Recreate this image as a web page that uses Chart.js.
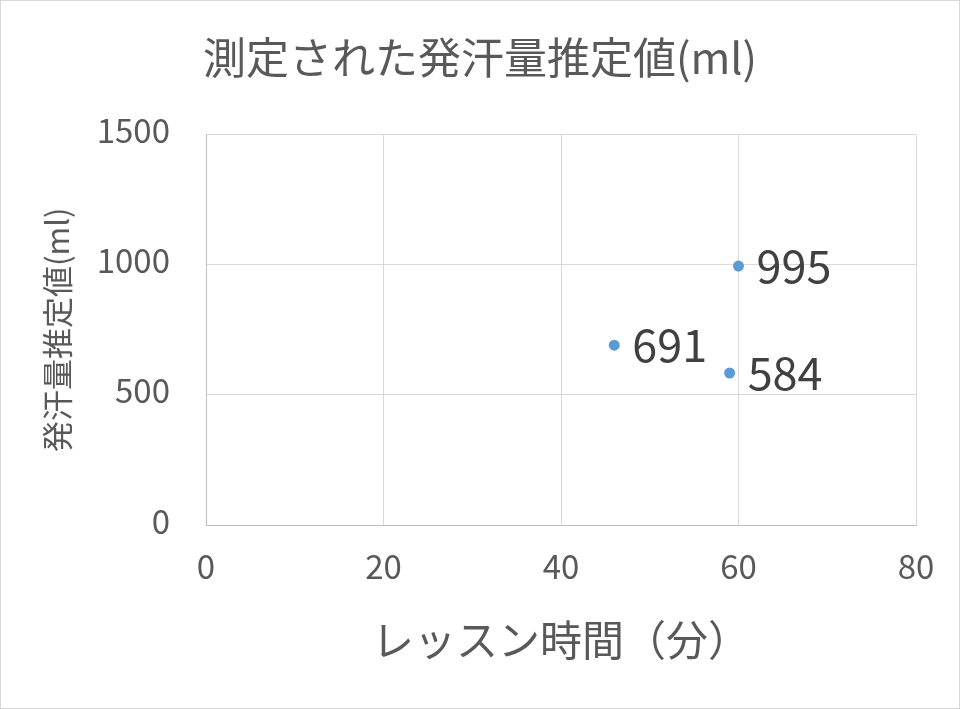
<!DOCTYPE html>
<html>
<head>
<meta charset="utf-8">
<script src="https://cdn.jsdelivr.net/npm/chart.js@4.4.1/dist/chart.umd.min.js"></script>
<style>
  body { margin: 0; background: #fff; }
  #wrap { position: absolute; left: 0; top: 0; width: 958px; height: 707px; border: 1px solid #d9d9d9; }
</style>
</head>
<body>
<div id="wrap"><canvas id="sweatChart" width="958" height="707"></canvas></div>
<script>
// data
const lessonMinutes = [46, 59, 60];
const sweatVolume = [691, 584, 995];
const xRange = [0, 80];
const yRange = [0, 1500];

const FONT = "'Noto Sans CJK JP', 'Noto Sans', sans-serif";
const textGray = '#595959';

// value labels to the right of each point
const pointLabels = {
    id: 'pointLabels',
    afterDatasetsDraw(chart) {
        const c = chart.ctx;
        const meta = chart.getDatasetMeta(0);
        c.save();
        c.font = '45px ' + FONT;
        c.fillStyle = '#404040';
        c.textAlign = 'left';
        c.textBaseline = 'middle';
        meta.data.forEach((pt, i) => {
            c.fillText(String(sweatVolume[i]), pt.x + 18, pt.y);
        });
        c.restore();
    }
};

const points = lessonMinutes.map((m, i) => ({ x: m, y: sweatVolume[i] }));

const ctx = document.getElementById('sweatChart').getContext('2d');
new Chart(ctx, {
    type: 'scatter',
    data: {
        datasets: [{
            label: '発汗量推定値(ml)',
            data: points,
            backgroundColor: '#5b9bd5',
            borderColor: '#5b9bd5',
            pointRadius: 5.5,
            borderWidth: 0,
        }],
    },
    options: {
        responsive: false,
        devicePixelRatio: 1,
        animation: false,
        layout: { padding: 0 },
        plugins: {
            legend: { display: false },
            tooltip: { enabled: false },
            title: {
                display: true,
                text: '測定された発汗量推定値(ml)',
                color: textGray,
                font: { family: FONT, size: 43, weight: 'normal', lineHeight: 1.2 },
                padding: { top: 31, bottom: 51 },
            },
        },
        scales: {
            x: {
                type: 'linear',
                position: 'bottom',
                min: xRange[0],
                max: xRange[1],
                afterFit(scale) { scale.height = 183; },
                ticks: {
                    stepSize: 20,
                    color: textGray,
                    padding: 22,
                    font: { family: FONT, size: 33 },
                },
                grid: { color: '#d9d9d9', lineWidth: 1, drawTicks: false },
                border: { color: '#bfbfbf', width: 1 },
                title: {
                    display: true,
                    text: 'レッスン時間（分）',
                    color: textGray,
                    font: { family: FONT, size: 42, lineHeight: 1.2 },
                    padding: { top: 0, bottom: 43 },
                },
            },
            y: {
                min: yRange[0],
                max: yRange[1],
                afterFit(scale) { scale.width = 205; },
                ticks: {
                    stepSize: 500,
                    color: textGray,
                    padding: 36,
                    labelOffset: -4,
                    font: { family: FONT, size: 33 },
                    callback: (v) => String(v),
                },
                grid: { color: '#d9d9d9', lineWidth: 1, drawTicks: false },
                border: { color: '#bfbfbf', width: 1 },
                title: {
                    display: true,
                    text: '発汗量推定値(ml)',
                    color: textGray,
                    font: { family: FONT, size: 31, lineHeight: 1.2 },
                    padding: { top: 38, bottom: 0 },
                },
            },
            // empty right-hand strip so the title stays centred on the page
            spacer: {
                position: 'right',
                min: 0,
                max: 1,
                afterFit(scale) { scale.width = 43; },
                ticks: { display: false },
                grid: { display: false, drawTicks: false },
                border: { display: false },
            },
        },
    },
    plugins: [pointLabels],
});
</script>
</body>
</html>
